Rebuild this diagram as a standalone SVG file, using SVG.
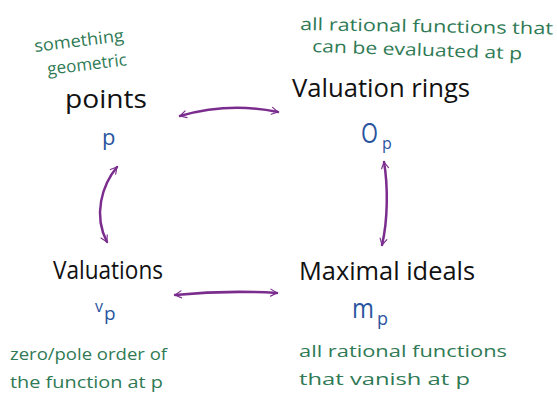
<svg xmlns="http://www.w3.org/2000/svg" width="557" height="400" viewBox="0 0 557 400">
<style>
text{font-family:"Open Sans","Liberation Sans",sans-serif;}
.t{fill:#111;font-size:26px;}
.g{fill:#2f7a55;font-size:17px;}
.b{fill:#2a55a0;}
.c{fill:none;stroke:#7b2d8e;stroke-width:2.5;stroke-linecap:round;}
</style>
<defs>
<marker id="h" viewBox="0 0 10 10" refX="9" refY="5" markerWidth="7" markerHeight="7" markerUnits="userSpaceOnUse" orient="auto-start-reverse" overflow="visible">
<path d="M0,0 L9,5 L0,10" fill="none" stroke="#7b2d8e" stroke-width="1.6" stroke-linecap="round" stroke-linejoin="round"/>
</marker>
</defs>
<rect width="557" height="400" fill="#fff"/>
<g id="connectors">
<path class="c" d="M180,116 Q229,102 278,112" marker-start="url(#h)" marker-end="url(#h)"/>
<path class="c" d="M117,167 C102,185 93,215 107,242" marker-start="url(#h)" marker-end="url(#h)"/>
<path class="c" d="M384,162 C388,185 388,220 382,245" marker-start="url(#h)" marker-end="url(#h)"/>
<path class="c" d="M175,295 Q226,290 277,293" marker-start="url(#h)" marker-end="url(#h)"/>
</g>
<g id="points">
<text class="g" x="35" y="52" transform="rotate(-7 35 52)" textLength="90" lengthAdjust="spacingAndGlyphs">something</text>
<text class="g" x="48" y="75" transform="rotate(-7 48 75)" textLength="80" lengthAdjust="spacingAndGlyphs">geometric</text>
<text class="t" x="65" y="108" font-size="28" textLength="82" lengthAdjust="spacingAndGlyphs">points</text>
<text class="b" x="102" y="145" font-size="22">p</text>
</g>
<g id="valuation-rings">
<text class="g" x="300" y="30" transform="rotate(1 300 30)" textLength="253" lengthAdjust="spacingAndGlyphs">all rational functions that</text>
<text class="g" x="312" y="52" transform="rotate(2 312 52)" textLength="210" lengthAdjust="spacingAndGlyphs">can be evaluated at p</text>
<text class="t" x="292" y="97" textLength="178" lengthAdjust="spacingAndGlyphs">Valuation rings</text>
<text class="b" x="361" y="143" font-size="28" textLength="17" lengthAdjust="spacingAndGlyphs">O</text>
<text class="b" x="382" y="149" font-size="16">p</text>
</g>
<g id="valuations">
<text class="t" x="53" y="279" textLength="110" lengthAdjust="spacingAndGlyphs">Valuations</text>
<text class="b" x="95" y="312" font-size="16">v</text>
<text class="b" x="104" y="320" font-size="19">p</text>
<text class="g" x="10" y="360" textLength="157" lengthAdjust="spacingAndGlyphs">zero/pole order of</text>
<text class="g" x="10" y="388" textLength="153" lengthAdjust="spacingAndGlyphs">the function at p</text>
</g>
<g id="maximal-ideals">
<text class="t" x="299" y="280" font-size="25" textLength="176" lengthAdjust="spacingAndGlyphs">Maximal ideals</text>
<text class="b" x="352" y="318" font-size="28" textLength="22" lengthAdjust="spacingAndGlyphs">m</text>
<text class="b" x="377" y="325" font-size="18">p</text>
<text class="g" x="299" y="357" textLength="208" lengthAdjust="spacingAndGlyphs">all rational functions</text>
<text class="g" x="299" y="385" textLength="171" lengthAdjust="spacingAndGlyphs">that vanish at p</text>
</g>
</svg>
